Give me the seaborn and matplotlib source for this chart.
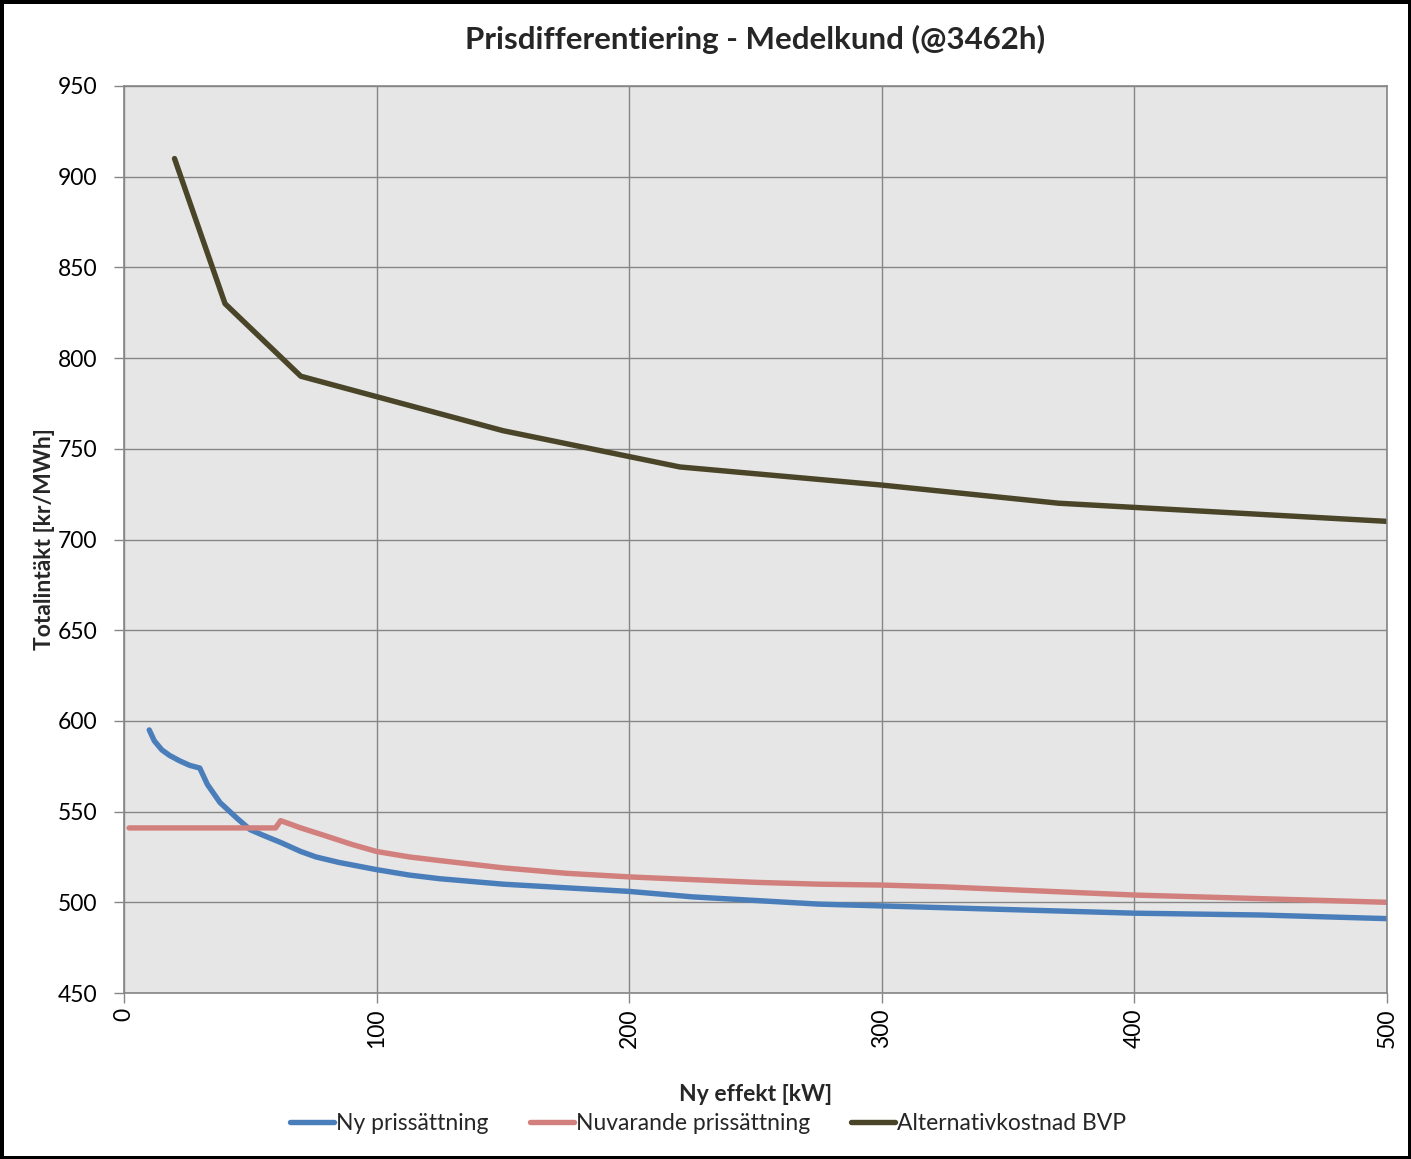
import pandas as pd
import matplotlib.pyplot as plt
import seaborn as sns

sns.set_theme(style='whitegrid', rc={'axes.facecolor': '#e6e6e6',
                                     'grid.color': '#868686',
                                     'axes.edgecolor': '#868686'})
plt.rcParams['font.family'] = ['Lato', 'DejaVu Sans']

series_names = ['Ny prissättning', 'Nuvarande prissättning', 'Alternativkostnad BVP']
colors = ['#4a7ebb', '#d2807d', '#4a4529']

ny_x = [10, 12, 15, 18, 22, 26, 30, 33, 38, 45, 50, 55, 62, 70, 76, 85, 100, 113, 125,
        150, 175, 200, 225, 250, 275, 300, 325, 350, 375, 400, 425, 450, 475, 500]
ny_y = [595, 589, 584, 581, 578, 575.5, 574, 565, 555, 546, 540, 537, 533, 528, 525, 522, 518, 515, 513,
        510, 508, 506, 503, 501, 499, 498, 497, 496, 495, 494, 493.5, 493, 492, 491]

nu_x = [2, 60, 62, 70, 79, 90, 100, 113, 125, 150, 175, 200, 225, 250, 275, 300,
        325, 350, 375, 400, 425, 450, 475, 500]
nu_y = [541, 541, 545, 541, 537, 532, 528, 525, 523, 519, 516, 514, 512.5, 511, 510, 509.5,
        508.5, 507, 505.5, 504, 503, 502, 501, 500]

alt_x = [20, 40, 70, 150, 220, 300, 370, 500]
alt_y = [910, 830, 790, 760, 740, 730, 720, 710]

x_ticks = [0, 100, 200, 300, 400, 500]
y_ticks = [450, 500, 550, 600, 650, 700, 750, 800, 850, 900, 950]

df = pd.concat([
    pd.DataFrame({'x': ny_x, 'y': ny_y, 'serie': series_names[0]}),
    pd.DataFrame({'x': nu_x, 'y': nu_y, 'serie': series_names[1]}),
    pd.DataFrame({'x': alt_x, 'y': alt_y, 'serie': series_names[2]}),
], ignore_index=True)

fig = plt.figure(figsize=(14.11, 11.59), dpi=100)
fig.patch.set_edgecolor('black')
fig.patch.set_linewidth(5)
ax = fig.add_axes([124 / 1411, 1 - 993 / 1159, 1263 / 1411, 907 / 1159])

sns.lineplot(data=df, x='x', y='y', hue='serie', hue_order=series_names,
             palette=colors, linewidth=3.9, sort=True, ax=ax, legend=True)

ax.set_xlim(0, 500)
ax.set_ylim(450, 950)
ax.set_xticks(x_ticks)
ax.set_yticks(y_ticks)
ax.grid(True, color='#868686', linewidth=1)
for s in ax.spines.values():
    s.set_color('#868686')
    s.set_linewidth(1.2)
ax.tick_params(axis='both', which='major', labelsize=16.5, length=7, width=1,
               color='#868686', labelcolor='black', direction='out',
               left=True, bottom=True)
ax.tick_params(axis='y', pad=12)
ax.tick_params(axis='x', labelrotation=90, pad=4)
ax.set_xlabel('Ny effekt [kW]', fontsize=16.5, fontweight='bold', labelpad=26)
ax.set_ylabel('Totalintäkt [kr/MWh]', fontsize=16.5, fontweight='bold', labelpad=2)
ax.set_title('Prisdifferentiering - Medelkund (@3462h)', fontsize=22.5,
             fontweight='bold', pad=27)

handles, labels = ax.get_legend_handles_labels()
ax.get_legend().remove()
fig.legend(handles, labels, loc='center', bbox_to_anchor=(0.502, 0.031), ncol=3,
           frameon=False, fontsize=16.5, handlelength=1.9, handletextpad=0.1,
           columnspacing=1.8)

fig.savefig('out.png', dpi=100)
